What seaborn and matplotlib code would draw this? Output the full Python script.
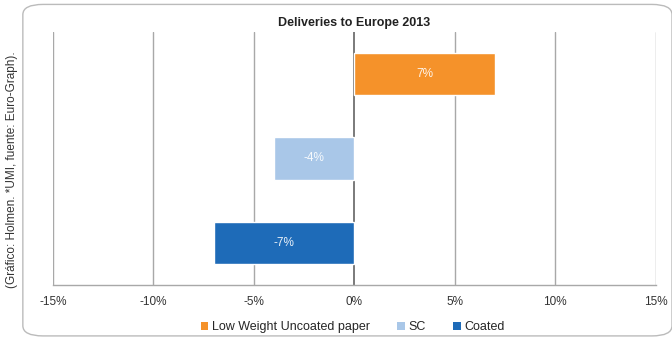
import matplotlib
matplotlib.use("Agg")
import matplotlib.pyplot as plt
import seaborn as sns
import pandas as pd
from matplotlib.patches import FancyBboxPatch, Patch

categories = ["Low Weight Uncoated paper", "SC", "Coated"]
values = [7, -4, -7]
labels = ["7%", "-4%", "-7%"]
colors = ["#F5922A", "#A9C7E8", "#1E6BB8"]
xticks = [-15, -10, -5, 0, 5, 10, 15]
xtick_labels = ["-15%", "-10%", "-5%", "0%", "5%", "10%", "15%"]

sns.set_theme(style="white")
plt.rcParams["font.family"] = ["Liberation Sans", "DejaVu Sans"]

df = pd.DataFrame({"cat": categories, "val": values})

fig = plt.figure(figsize=(6.72, 3.40), dpi=100)
ax = fig.add_axes([0.0789, 0.162, 0.897, 0.744])

sns.barplot(data=df, x="val", y="cat", hue="cat", palette=colors, order=categories,
            hue_order=categories, dodge=False, width=0.5, legend=False, ax=ax,
            saturation=1)

for p, lab in zip(ax.patches, labels):
    cx = p.get_x() + p.get_width() / 2
    cy = p.get_y() + p.get_height() / 2
    ax.text(cx, cy, lab, ha="center", va="center", color="white", fontsize=8.5, alpha=0.9)

ax.set_xlim(-15, 15)
ax.set_ylim(2.5, -0.5)
ax.set_xticks(xticks)
ax.set_xticklabels(xtick_labels, fontsize=8.5, color="#333333")
ax.set_yticks([])
ax.set_xlabel("")
ax.set_ylabel("")
ax.grid(False)
for x in xticks:
    if x == 0:
        ax.axvline(x, color="#707070", lw=1.3, zorder=0.5)
    else:
        ax.axvline(x, color="#A8A8A8", lw=1.0, zorder=0.5)
for s in ["top", "left", "right"]:
    ax.spines[s].set_visible(False)
ax.spines["bottom"].set_color("#A8A8A8")
ax.spines["bottom"].set_linewidth(1.0)
ax.tick_params(axis="x", length=0, pad=8)

ax.set_title("Deliveries to Europe 2013", fontsize=9, fontweight="bold", pad=4, color="#222222")

handles = [Patch(facecolor=c, edgecolor="none") for c in colors]
fig.legend(handles, categories, loc="center", bbox_to_anchor=(0.525, 0.038), ncol=3,
           frameon=False, fontsize=9, handlelength=0.6, handleheight=0.6,
           handletextpad=0.3, columnspacing=2.2)

box = FancyBboxPatch((0.034, 0.012), 0.966, 0.975, boxstyle="round,pad=0,rounding_size=0.03",
                     transform=fig.transFigure, facecolor="none", edgecolor="#BBBBBB", lw=1.0)
fig.patches.append(box)

fig.text(0.018, 0.5, "(Gráfico: Holmen. *UMI, fuente: Euro-Graph).", rotation=90,
         ha="center", va="center", fontsize=8.5, color="#333333")

fig.savefig("out.png", dpi=100)
